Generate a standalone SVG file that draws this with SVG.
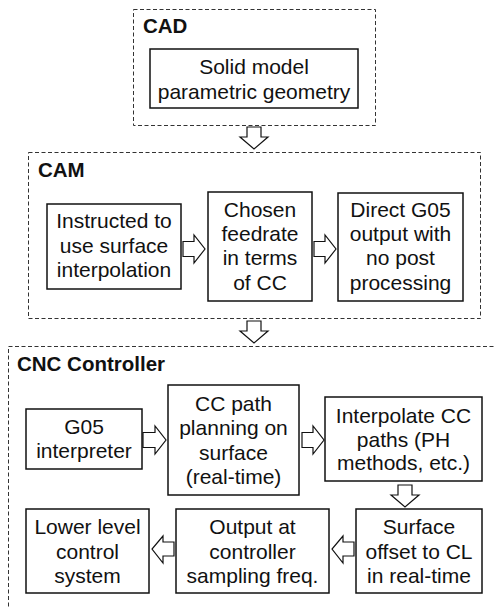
<svg xmlns="http://www.w3.org/2000/svg" width="495" height="609" viewBox="0 0 495 609">
<style>
.grp{fill:none;stroke:#333;stroke-width:1;stroke-dasharray:4 2.5}
.box{fill:#fff;stroke:#111;stroke-width:1.5}
.t{font-family:"Liberation Sans",Arial,Helvetica,sans-serif;font-size:21px;fill:#111;text-anchor:middle}
.h{font-family:"Liberation Sans",Arial,Helvetica,sans-serif;font-size:20.5px;font-weight:bold;fill:#111}
.arr{fill:#fff;stroke:#111;stroke-width:1.2;stroke-linejoin:miter}
</style>
<rect width="495" height="609" fill="#fff"/>
<g id="cad">
<rect class="grp" x="133.5" y="9.5" width="242" height="116"/>
<text class="h" x="143" y="33">CAD</text>
</g>
<g id="cad-model">
<rect class="box" x="150" y="49" width="208" height="59"/>
<text class="t" x="254" y="74">Solid model</text>
<text class="t" x="254" y="99">parametric geometry</text>
</g>
<g id="cam">
<rect class="grp" x="28.5" y="152.5" width="452" height="166"/>
<text class="h" x="38" y="177">CAM</text>
</g>
<g id="cam-instructed">
<rect class="box" x="47" y="204" width="134" height="85"/>
<text class="t" x="114" y="228">Instructed to</text>
<text class="t" x="114" y="253">use surface</text>
<text class="t" x="114" y="277">interpolation</text>
</g>
<g id="cam-feedrate">
<rect class="box" x="208" y="192" width="104" height="109"/>
<text class="t" x="260" y="217">Chosen</text>
<text class="t" x="260" y="241">feedrate</text>
<text class="t" x="260" y="265">in terms</text>
<text class="t" x="260" y="290">of CC</text>
</g>
<g id="cam-g05">
<rect class="box" x="338" y="193" width="125" height="108"/>
<text class="t" x="400.5" y="217">Direct G05</text>
<text class="t" x="400.5" y="241">output with</text>
<text class="t" x="400.5" y="265">no post</text>
<text class="t" x="400.5" y="290">processing</text>
</g>
<g id="cnc">
<rect class="grp" x="8.5" y="346.5" width="500" height="280"/>
<text class="h" x="17" y="371">CNC Controller</text>
</g>
<g id="cnc-interpreter">
<rect class="box" x="26" y="409" width="116" height="60"/>
<text class="t" x="84" y="434">G05</text>
<text class="t" x="84" y="458">interpreter</text>
</g>
<g id="cnc-planning">
<rect class="box" x="168" y="385" width="131" height="110"/>
<text class="t" x="233.5" y="411">CC path</text>
<text class="t" x="233.5" y="435">planning on</text>
<text class="t" x="233.5" y="460">surface</text>
<text class="t" x="233.5" y="484">(real-time)</text>
</g>
<g id="cnc-interpolate">
<rect class="box" x="325" y="397" width="157" height="84"/>
<text class="t" x="403.5" y="423">Interpolate CC</text>
<text class="t" x="403.5" y="447">paths (PH</text>
<text class="t" x="403.5" y="470">methods, etc.)</text>
</g>
<g id="cnc-lower">
<rect class="box" x="26" y="509" width="123" height="84"/>
<text class="t" x="87.5" y="534">Lower level</text>
<text class="t" x="87.5" y="559">control</text>
<text class="t" x="87.5" y="583">system</text>
</g>
<g id="cnc-output">
<rect class="box" x="176" y="509" width="153" height="84"/>
<text class="t" x="252.5" y="534">Output at</text>
<text class="t" x="252.5" y="559">controller</text>
<text class="t" x="252.5" y="583">sampling freq.</text>
</g>
<g id="cnc-offset">
<rect class="box" x="356" y="509" width="126" height="84"/>
<text class="t" x="419" y="534">Surface</text>
<text class="t" x="419" y="559">offset to CL</text>
<text class="t" x="419" y="583">in real-time</text>
</g>
<g id="connectors">
<polygon class="arr" points="247,127 261,127 261,137 268,137 254,149 240,137 247,137"/>
<polygon class="arr" points="247,321 261,321 261,331 268,331 254,343 240,331 247,331"/>
<polygon class="arr" points="183,241.5 194,241.5 194,235 205,249 194,263 194,256.5 183,256.5"/>
<polygon class="arr" points="314,241.5 325,241.5 325,235 336,249 325,263 325,256.5 314,256.5"/>
<polygon class="arr" points="143,432.5 155,432.5 155,426 166,440 155,454 155,447.5 143,447.5"/>
<polygon class="arr" points="302,432.5 313,432.5 313,426 324,440 313,454 313,447.5 302,447.5"/>
<polygon class="arr" points="398,485 412,485 412,495 419,495 405,507 391,495 398,495"/>
<polygon class="arr" points="174,542 163,542 163,536 152,549 163,563 163,556 174,556"/>
<polygon class="arr" points="354,542 343,542 343,536 332,549 343,563 343,556 354,556"/>
</g>
</svg>
